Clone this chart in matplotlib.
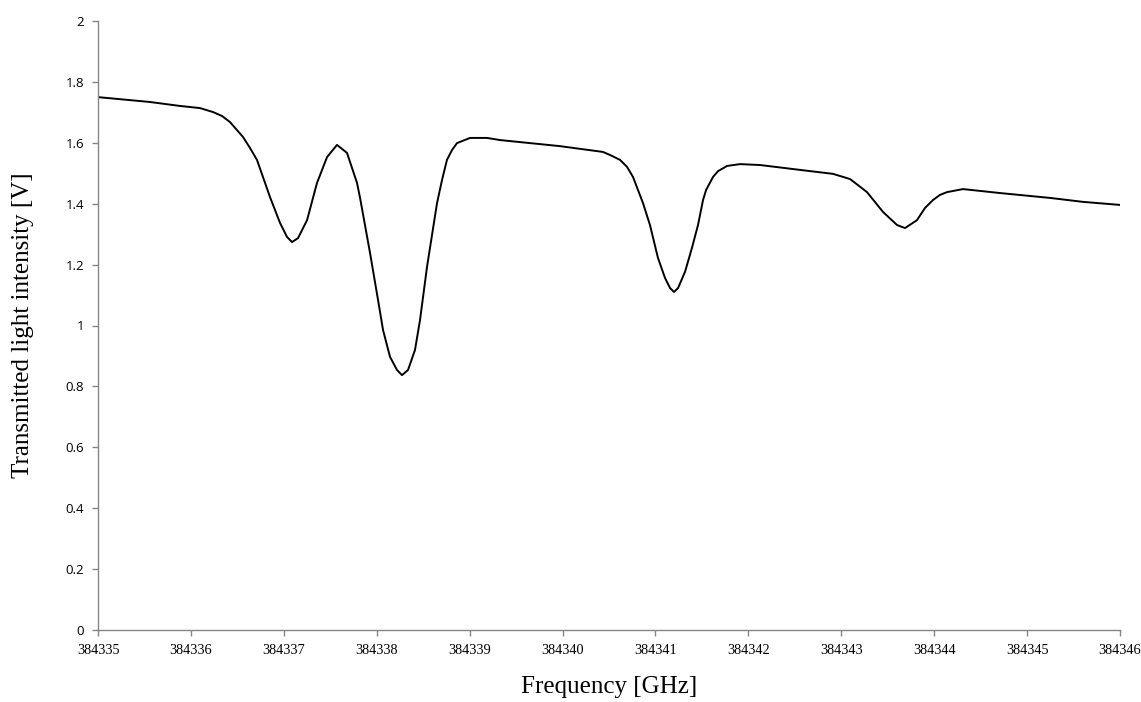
import matplotlib
matplotlib.use("Agg")
import matplotlib.pyplot as plt
import numpy as np

F0 = 384335.0
freq_offset = [0.000, 0.560, 0.883, 1.098, 1.238, 1.335, 1.421, 1.561, 1.636,
               1.711, 1.851, 1.959, 2.034, 2.088, 2.153, 2.250, 2.357, 2.465,
               2.572, 2.680, 2.788, 2.820, 2.928, 3.014, 3.068, 3.143, 3.218,
               3.272, 3.337, 3.412, 3.466, 3.541, 3.595, 3.649, 3.703, 3.756,
               3.810, 3.864, 4.004, 4.187, 4.327, 4.973, 5.435, 5.511, 5.618,
               5.694, 5.758, 5.866, 5.941, 6.027, 6.103, 6.157, 6.200, 6.243,
               6.318, 6.393, 6.458, 6.512, 6.545, 6.620, 6.674, 6.771, 6.910,
               7.126, 7.556, 7.911, 8.094, 8.180, 8.277, 8.449, 8.600, 8.686,
               8.815, 8.901, 8.987, 9.063, 9.138, 9.310, 9.708, 10.247, 10.602,
               11.000]
intensity = [1.750, 1.734, 1.721, 1.714, 1.701, 1.688, 1.668, 1.619, 1.583,
             1.544, 1.422, 1.337, 1.291, 1.274, 1.287, 1.346, 1.468, 1.553,
             1.593, 1.567, 1.468, 1.420, 1.238, 1.084, 0.985, 0.897, 0.854,
             0.837, 0.854, 0.920, 1.018, 1.192, 1.297, 1.402, 1.478, 1.544,
             1.576, 1.599, 1.616, 1.616, 1.609, 1.589, 1.570, 1.560, 1.544,
             1.521, 1.488, 1.402, 1.330, 1.222, 1.156, 1.123, 1.110, 1.123,
             1.176, 1.255, 1.330, 1.412, 1.445, 1.488, 1.507, 1.524, 1.530,
             1.527, 1.511, 1.498, 1.481, 1.461, 1.438, 1.373, 1.330, 1.320,
             1.346, 1.386, 1.412, 1.429, 1.438, 1.448, 1.435, 1.419, 1.406,
             1.396]

x_ticks = list(range(384335, 384347))
y_ticks = [0, 0.2, 0.4, 0.6, 0.8, 1, 1.2, 1.4, 1.6, 1.8, 2]
y_ticklabels = ["0", "0.2", "0.4", "0.6", "0.8", "1", "1.2", "1.4", "1.6", "1.8", "2"]

GREY = "#868686"

fig = plt.figure(figsize=(11.41, 7.02), dpi=100)
ax = fig.add_axes([98 / 1141, 72 / 702, 1022 / 1141, 609 / 702])

ax.plot(F0 + np.array(freq_offset), intensity, color="black", lw=1.4,
        solid_joinstyle="round")

ax.set_xlim(384335, 384346)
ax.set_ylim(0, 2)
ax.set_xticks(x_ticks)
ax.set_xticklabels([str(t) for t in x_ticks], family="Liberation Serif",
                   fontsize=10.3)
ax.set_yticks(y_ticks)
ax.set_yticklabels(y_ticklabels, family="Open Sans", fontsize=9.5)

for side in ("top", "right"):
    ax.spines[side].set_visible(False)
for side in ("left", "bottom"):
    ax.spines[side].set_color(GREY)
    ax.spines[side].set_linewidth(1.0)
ax.tick_params(axis="both", direction="out", length=4, width=1.0,
               color=GREY)
ax.tick_params(axis="y", pad=6)
ax.tick_params(axis="x", pad=6)

ax.set_xlabel("Frequency [GHz]", family="Liberation Serif", fontsize=18,
              labelpad=14)
ax.set_ylabel("Transmitted light intensity [V]", family="Liberation Serif",
              fontsize=18, labelpad=23)

fig.savefig("out.png", dpi=100)
